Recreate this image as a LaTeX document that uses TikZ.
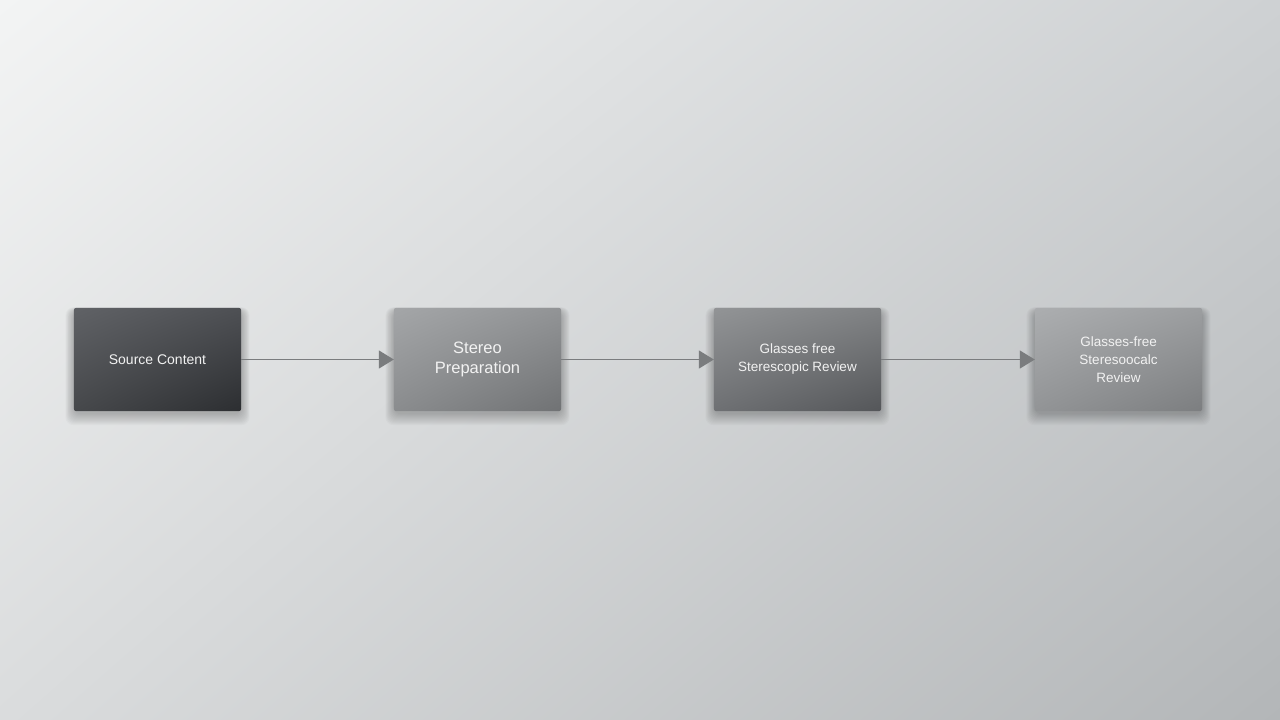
\documentclass[tikz,border=0pt]{standalone}
\usepackage{fontspec}
\setmainfont{Liberation Sans}
\usetikzlibrary{arrows.meta,positioning,shadings}
\definecolor{bgUL}{HTML}{F3F4F4}
\definecolor{bgUR}{HTML}{CED1D3}
\definecolor{bgLL}{HTML}{DADCDD}
\definecolor{bgLR}{HTML}{B3B6B8}
\definecolor{linec}{HTML}{7A7C7E}
\definecolor{txt}{HTML}{F2F2F2}
\definecolor{aUL}{RGB}{96,98,102}\definecolor{aUR}{RGB}{78,80,84}\definecolor{aLL}{RGB}{70,72,75}\definecolor{aLR}{RGB}{44,46,49}
\definecolor{bUL}{RGB}{164,166,168}\definecolor{bUR}{RGB}{146,148,150}\definecolor{bLL}{RGB}{138,140,142}\definecolor{bLR}{RGB}{112,114,116}
\definecolor{cUL}{RGB}{146,148,150}\definecolor{cUR}{RGB}{128,130,132}\definecolor{cLL}{RGB}{110,112,115}\definecolor{cLR}{RGB}{84,86,89}
\definecolor{dUL}{RGB}{172,174,176}\definecolor{dUR}{RGB}{156,158,160}\definecolor{dLL}{RGB}{146,148,150}\definecolor{dLR}{RGB}{124,126,128}
\tikzset{
  boxbase/.style={rounded corners=2.5pt, minimum width=167pt, minimum height=103pt, inner sep=0pt, align=center, text=txt},
  conn/.style={draw=linec, line width=1.3pt, -{Triangle[length=15pt,width=18pt]}},
}
\newcommand{\softshadow}[1]{%
  \foreach \d in {1,2,...,12}{%
    \fill[black, opacity=0.018, rounded corners=8pt]
      ([xshift=-0.7*\d pt, yshift=0.3*\d pt-3pt]#1.north west) rectangle ([xshift=0.7*\d pt, yshift=-\d pt-2pt]#1.south east);
  }%
}
\begin{document}
\begin{tikzpicture}[x=1pt,y=-1pt]
\useasboundingbox (0,0) rectangle (1280,720);
\shade[upper left=bgUL, upper right=bgUR, lower left=bgLL, lower right=bgLR] (0,0) rectangle (1280,720);
\path (157.5,359.5) node[boxbase] (a) {};
\path (477.5,359.5) node[boxbase] (b) {};
\path (797.5,359.5) node[boxbase] (c) {};
\path (1118.5,359.5) node[boxbase] (d) {};
\softshadow{a}\softshadow{b}\softshadow{c}\softshadow{d}
\shade[rounded corners=2.5pt, upper left=aUL, upper right=aUR, lower left=aLL, lower right=aLR] (a.north west) rectangle (a.south east);
\shade[rounded corners=2.5pt, upper left=bUL, upper right=bUR, lower left=bLL, lower right=bLR] (b.north west) rectangle (b.south east);
\shade[rounded corners=2.5pt, upper left=cUL, upper right=cUR, lower left=cLL, lower right=cLR] (c.north west) rectangle (c.south east);
\shade[rounded corners=2.5pt, upper left=dUL, upper right=dUR, lower left=dLL, lower right=dLR] (d.north west) rectangle (d.south east);
\node[boxbase, font=\fontsize{14}{18}\selectfont] at (a) {Source Content};
\node[boxbase, font=\fontsize{16.5}{20}\selectfont] at (b) {Stereo\\Preparation};
\node[boxbase, font=\fontsize{13.5}{18}\selectfont] at (c) {Glasses free\\Sterescopic Review};
\node[boxbase, font=\fontsize{13.5}{18}\selectfont] at (d) {Glasses-free\\Steresoocalc\\Review};
\draw[conn] (a.east) -- (b.west);
\draw[conn] (b.east) -- (c.west);
\draw[conn] (c.east) -- (d.west);
\end{tikzpicture}
\end{document}
